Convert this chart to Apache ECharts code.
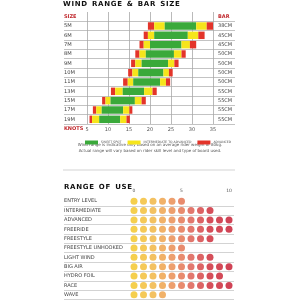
<!DOCTYPE html>
<html>
<head>
<meta charset="utf-8">
<style>html,body{margin:0;padding:0;background:#fff}#chart{width:300px;height:300px}</style>
<script src="https://cdn.jsdelivr.net/npm/echarts@6.0.0/dist/echarts.min.js"></script>
</head>
<body>
<div id="chart"></div>
<script>
// wind range (knots) per kite size
var sizes = ['5M','6M','7M','8M','9M','10M','11M','13M','15M','17M','19M'];
var barSizes = ['38CM','45CM','45CM','50CM','50CM','50CM','50CM','55CM','55CM','55CM','55CM'];
var advLow    = [19.5,18.5,17.5,16.5,15.5,14.8,13.6,10.7, 8.6, 6.4, 5.6];
var midLow    = [21.0,19.5,18.5,17.5,16.5,15.8,14.7,11.7, 9.4, 7.2, 6.2];
var sweetLow  = [23.5,21.0,20.0,19.0,18.0,17.2,16.0,13.5,10.6, 8.5, 7.9];
var sweetHigh = [31.0,29.0,27.5,25.7,24.3,23.2,22.4,18.6,16.4,13.6,12.9];
var midHigh   = [33.5,31.5,29.5,27.5,25.8,24.5,23.8,20.6,18.0,15.1,14.4];
var advHigh   = [35.0,33.0,31.0,28.5,26.8,25.4,24.8,21.6,19.0,15.8,15.2];

// range of use, score 0-10
var uses = ['ENTRY LEVEL','INTERMEDIATE','ADVANCED','FREERIDE','FREESTYLE','FREESTYLE UNHOOKED','LIGHT WIND','BIG AIR','HYDRO FOIL','RACE','WAVE'];
var ratings = [5,8,10,10,8,5,8,10,9,10,3];

var GREEN = '#3aa93a', YELLOW = '#f6e51b', RED = '#e3342a';
var LABEL = '#444', HEAD = '#c0282d';
var FONT = 'DejaVu Sans';

var rows = ['SIZE'].concat(sizes);
var barCol = ['BAR'].concat(barSizes);

// width of one coloured piece, first row (header) left empty
function piece(hi, lo){
  return ['-'].concat(hi.map(function(v, i){ return +(v - lo[i]).toFixed(2); }));
}
function bar(name, data, color){
  return {
    type: 'bar', name: name, stack: 'wind', xAxisIndex: 1, yAxisIndex: 1,
    data: data, barWidth: '80%', silent: true,
    itemStyle: {color: color}
  };
}

var dots = [];
ratings.forEach(function(r, i){
  for (var v = 0; v <= r; v++) dots.push([v, i]);
});

var headLabel = function(v, i){ return i === 0 ? '{h|' + v + '}' : v; };
var headRich = {h: {color: HEAD, fontWeight: 'bold', fontSize: 5, fontFamily: FONT}};

var chart = echarts.init(document.getElementById('chart'));
chart.setOption({
  animation: false,
  textStyle: {fontFamily: FONT},
  grid: [
    {left: 64, right: 65, top: 12, bottom: 176},
    {left: 87, right: 87, top: 12, bottom: 176},
    {left: 64, right: 66, top: 196.5, bottom: 0.5},
    {left: 134, right: 71, top: 196.5, bottom: 0.5}
  ],
  xAxis: [
    {gridIndex: 0, type: 'value', show: false},
    {gridIndex: 1, type: 'value', min: 5, max: 35, interval: 5,
      axisLine: {show: false}, axisTick: {show: false},
      axisLabel: {color: '#555', fontSize: 5, margin: 3},
      splitLine: {lineStyle: {color: '#a8a8a8', width: 0.8}}},
    {gridIndex: 2, type: 'value', show: false},
    {gridIndex: 3, type: 'value', position: 'top', min: 0, max: 10, interval: 5,
      axisLine: {show: false}, axisTick: {show: false}, splitLine: {show: false},
      axisLabel: {color: '#555', fontSize: 4.5, margin: 3}}
  ],
  yAxis: [
    {gridIndex: 0, type: 'category', data: rows, inverse: true,
      axisLine: {show: false}, axisTick: {show: false},
      axisLabel: {inside: true, margin: 0, color: LABEL, fontSize: 5.2, formatter: headLabel, rich: headRich},
      splitLine: {show: true, showMinLine: false, lineStyle: {color: '#b4b4b4', width: 0.8}}},
    {gridIndex: 1, type: 'category', data: barCol, inverse: true, position: 'right',
      axisLine: {show: false}, axisTick: {show: false},
      axisLabel: {margin: 5, align: 'left', color: LABEL, fontSize: 5, formatter: headLabel, rich: headRich}},
    {gridIndex: 2, type: 'category', data: uses, inverse: true,
      axisLine: {show: false}, axisTick: {show: false},
      axisLabel: {inside: true, margin: 0, color: LABEL, fontSize: 5},
      splitLine: {show: true, showMinLine: false, lineStyle: {color: '#c8c8c8', width: 0.8}}},
    {gridIndex: 3, type: 'category', data: uses, inverse: true, show: false}
  ],
  legend: {
    left: 80, top: 135.5, itemWidth: 13, itemHeight: 4, itemGap: 6,
    icon: 'rect', selectedMode: false,
    data: ['SWEET SPOT', 'INTERMEDIATE TO ADVANCED', 'ADVANCED'],
    textStyle: {fontSize: 3.2, color: '#555', padding: [0, 0, 0, -2]}
  },
  visualMap: {
    show: false, seriesIndex: 6, dimension: 0, min: 0, max: 10,
    inRange: {color: ['#f3c322', '#f0b23a', '#e9874a', '#db5549', '#cb2230', '#c4142a']}
  },
  series: [
    {type: 'bar', name: 'base', stack: 'wind', xAxisIndex: 1, yAxisIndex: 1, silent: true,
      data: ['-'].concat(advLow), itemStyle: {color: 'transparent'}},
    bar('ADVANCED', piece(midLow, advLow), RED),
    bar('INTERMEDIATE TO ADVANCED', piece(sweetLow, midLow), YELLOW),
    bar('SWEET SPOT', piece(sweetHigh, sweetLow), GREEN),
    bar('INTERMEDIATE TO ADVANCED', piece(midHigh, sweetHigh), YELLOW),
    bar('ADVANCED', piece(advHigh, midHigh), RED),
    {type: 'scatter', xAxisIndex: 3, yAxisIndex: 3, symbolSize: 7, silent: true, data: dots}
  ],
  graphic: [
    {type: 'text', left: 63, top: 0.5, style: {text: 'W\u200aI\u200aN\u200aD  R\u200aA\u200aN\u200aG\u200aE  &  B\u200aA\u200aR  S\u200aI\u200aZ\u200aE',
      font: 'bold 7px "DejaVu Sans"', fill: '#111'}},
    {type: 'text', left: 64, top: 126.5, style: {text: 'KNOTS', font: 'bold 5px "DejaVu Sans"', fill: HEAD}},
    {type: 'text', x: 150, y: 145, style: {text: 'Wind range is indicative only based on an average rider weight of 80kg.',
      font: '4px "DejaVu Sans"', fill: '#555', align: 'center', verticalAlign: 'middle'}},
    {type: 'text', x: 150, y: 150.5, style: {text: 'Actual range will vary based on rider skill level and type of board used.',
      font: '4px "DejaVu Sans"', fill: '#555', align: 'center', verticalAlign: 'middle'}},
    {type: 'line', shape: {x1: 63, y1: 170, x2: 235, y2: 170}, style: {stroke: '#c8c8c8', lineWidth: 0.8}},
    {type: 'text', left: 64, top: 184, style: {text: 'R\u200aA\u200aN\u200aG\u200aE  O\u200aF  U\u200aS\u200aE',
      font: 'bold 7px "DejaVu Sans"', fill: '#111'}}
  ]
});
</script>
</body>
</html>
